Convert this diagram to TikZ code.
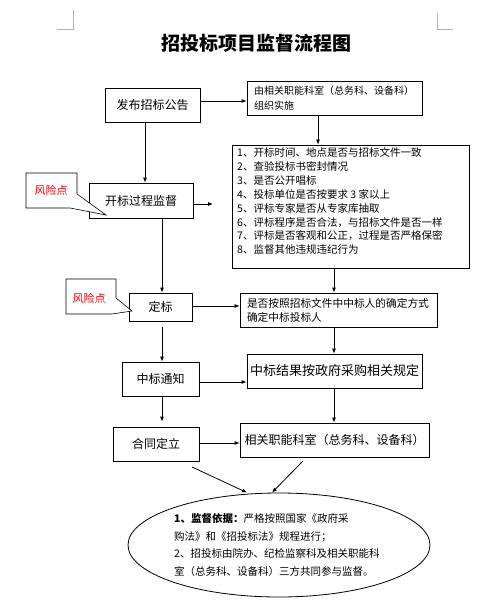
\documentclass[tikz,border=0pt]{standalone}
\usepackage{fontspec}
\setmainfont{Noto Sans CJK SC}
\usetikzlibrary{arrows.meta,shapes.geometric,calc}
\tikzset{
  bx/.style={draw, line width=0.8pt, inner sep=0pt, font=\fontsize{12}{14}\selectfont},
  arr/.style={line width=0.8pt, -{Latex[length=5pt,width=4pt]}},
  thinline/.style={line width=0.8pt},
  callout/.style={draw, line width=0.6pt, fill=white},
  risk/.style={text=red, font=\fontsize{11}{13}\selectfont, inner sep=0pt},
  cornermark/.style={draw=gray!60, line width=0.6pt},
}
\begin{document}
\begin{tikzpicture}[x=1pt,y=-1pt]
\useasboundingbox (0,0) rectangle (500,604);
% corner marks
\draw[cornermark] (57,29) -- (73,29) -- (73,10);
\draw[cornermark] (437,13) -- (437,29) -- (453,29);
% title
\node[font=\fontsize{19}{22}\selectfont\bfseries] (title) at (256,43) {招投标项目监督流程图};

% left column
\node[bx, minimum width=95pt, minimum height=34pt] (pub) at (152.5,105) {发布招标公告};
\node[bx, minimum width=104pt, minimum height=35pt] (kb) at (141,200.5) {开标过程监督};
\node[bx, minimum width=63pt, minimum height=28pt] (db) at (160.5,307) {定标};
\node[bx, minimum width=77pt, minimum height=34pt] (tz) at (160.5,379) {中标通知};
\node[bx, minimum width=86pt, minimum height=34pt] (ht) at (156,444) {合同定立};

% right column
\node[bx, minimum width=175pt, minimum height=34pt, text width=161pt, inner xsep=7pt, align=left,
      font=\fontsize{10}{15}\selectfont] (org) at (334.5,98) {由相关职能科室（总务科、设备科）\\组织实施};
\node[bx, minimum width=237pt, minimum height=123pt] (list) at (350.5,206.5) {};
\node[anchor=north west, inner sep=0pt, align=left, font=\fontsize{10.5}{13.9}\selectfont] (listtxt) at (237,147.5)
 {1、开标时间、地点是否与招标文件一致\\
  2、查验投标书密封情况\\
  3、是否公开唱标\\
  4、投标单位是否按要求 3 家以上\\
  5、评标专家是否从专家库抽取\\
  6、评标程序是否合法，与招标文件是否一样\\
  7、评标是否客观和公正，过程是否严格保密\\
  8、监督其他违规违纪行为};
\node[bx, minimum width=197pt, minimum height=34pt, text width=183pt, inner xsep=7pt, align=left,
      font=\fontsize{10.7}{14}\selectfont] (rule) at (338.5,310) {是否按照招标文件中中标人的确定方式\\确定中标投标人};
\node[bx, minimum width=175pt, minimum height=34pt, font=\fontsize{13}{15}\selectfont] (res) at (334.5,371) {中标结果按政府采购相关规定};
\node[bx, minimum width=189pt, minimum height=34pt] (dept) at (334.5,440) {相关职能科室（总务科、设备科）};

% ellipse
\node[draw, thinline, ellipse, minimum width=302pt, minimum height=104pt, inner sep=0pt] (ell) at (279,545) {};
\node[anchor=north west, inner sep=0pt, align=left, font=\fontsize{10.5}{17.6}\selectfont] (elltxt) at (174,513.5)
 {\textbf{1、监督依据：}严格按照国家《政府采\\
  购法》和《招投标法》规程进行；\\
  2、招投标由院办、纪检监察科及相关职能科\\
  室（总务科、设备科）三方共同参与监督。};

% risk callouts
\draw[callout] (26,173) -- (77,173) -- (77,194) -- (106,215) -- (70,208) -- (26,208) -- cycle;
\node[risk] (risk1) at (51,190) {风险点};
\draw[callout] (66,279) -- (116,279) -- (116,298) -- (132,311) -- (112,314) -- (66,314) -- cycle;
\node[risk] (risk2) at (89,298) {风险点};

% vertical arrows left
\draw[arr] ([xshift=-7.5pt]pub.south) -- ([xshift=-7.5pt]pub.south |- kb.north);
\draw[arr] ([xshift=1.5pt]db.north |- kb.south) -- ([xshift=1.5pt]db.north);
\draw[arr] ([xshift=1.5pt,yshift=-6pt]db.south) -- ([xshift=1.5pt]db.south |- tz.north);
\draw[arr] ([xshift=1.5pt,yshift=-1pt]tz.south) -- ([xshift=1.5pt,yshift=5pt]tz.south |- ht.north);

% vertical arrows right
\draw[arr] ([xshift=-16.5pt]org.south) -- ([xshift=-16.5pt]org.south |- list.north);
\draw[arr] ([xshift=-16.5pt]list.south) -- ([xshift=-16.5pt]list.south |- rule.north);
\draw[arr] ([xshift=-4.5pt]rule.south) -- ([xshift=-4.5pt]rule.south |- res.north);
\draw[arr] ([xshift=-0.5pt]res.south) -- ([xshift=-0.5pt]res.south |- dept.north);

% horizontal arrows
\draw[arr] ([yshift=4pt]pub.east) -- ([yshift=4pt]pub.east -| org.west);
\coordinate (kbend) at (213,204);
\draw[arr] (kb.east |- kbend) -- (kbend);
\draw[arr] ([yshift=1pt]db.east) -- ([yshift=1pt]db.east -| rule.west);
\draw[arr] ([yshift=-3pt]tz.east) -- ([yshift=-3pt]tz.east -| res.west);
\draw[arr] ([yshift=1pt]ht.east) -- ([yshift=1pt]ht.east -| dept.west);

% arrows to ellipse
\coordinate (s1) at (192,467);
\coordinate (s2) at (303,461);
\draw[arr] (s1) -- ([xshift=-32pt]ell.north);
\draw[arr] (s2) -- ([xshift=-7pt]ell.north);
\end{tikzpicture}
\end{document}
